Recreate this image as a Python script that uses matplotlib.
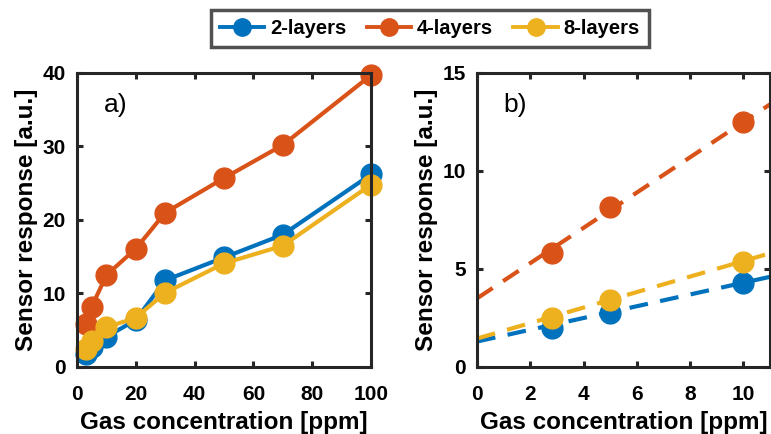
import numpy as np
import matplotlib
matplotlib.use('Agg')
import matplotlib.pyplot as plt
from matplotlib.lines import Line2D

plt.rcParams['font.family'] = ['Liberation Sans', 'DejaVu Sans']

# panel a) data
conc_a = [3, 5, 10, 20, 30, 50, 70, 100]
resp_2 = [1.8, 2.7, 4.1, 6.4, 11.8, 14.9, 18.0, 26.2]
resp_4 = [5.9, 8.2, 12.5, 16.1, 21.0, 25.7, 30.2, 39.7]
resp_8 = [2.4, 3.5, 5.4, 6.7, 10.1, 14.1, 16.5, 24.8]

# panel b) data (low concentration) + linear fit end points
conc_b = [2.8, 5, 10]
low_2 = [1.97, 2.74, 4.27]
low_4 = [5.84, 8.18, 12.48]
low_8 = [2.52, 3.42, 5.37]
fit_x = [0, 11]
fit_2 = [1.3, 4.6]
fit_4 = [3.5, 13.4]
fit_8 = [1.45, 5.8]

labels = ['2-layers', '4-layers', '8-layers']
colors = ['#0072BD', '#D95319', '#EDB120']
spine_c = '#262626'

fig = plt.figure(figsize=(7.71, 4.34), dpi=100)
ax1 = fig.add_axes([0.0999, 0.1544, 0.3813, 0.6774])
ax2 = fig.add_axes([0.6187, 0.1544, 0.3800, 0.6774])

for y, c in zip([resp_2, resp_4, resp_8], colors):
    ax1.plot(conc_a, y, '-o', color=c, lw=3, ms=15, clip_on=False)

for y, fy, c in zip([low_2, low_4, low_8], [fit_2, fit_4, fit_8], colors):
    ax2.plot(conc_b, y, 'o', color=c, ms=15, clip_on=False)
    ax2.plot(fit_x, fy, '--', color=c, lw=3, dashes=(4.5, 3))

ax1.set_xlim(0, 100)
ax1.set_ylim(0, 40)
ax1.set_xticks([0, 20, 40, 60, 80, 100])
ax1.set_yticks([0, 10, 20, 30, 40])
ax2.set_xlim(0, 11)
ax2.set_ylim(0, 15)
ax2.set_xticks([0, 2, 4, 6, 8, 10])
ax2.set_yticks([0, 5, 10, 15])

for ax, tag in [(ax1, 'a)'), (ax2, 'b)')]:
    for s in ax.spines.values():
        s.set_linewidth(2.2)
        s.set_color(spine_c)
    ax.tick_params(direction='in', top=True, right=True, length=4, width=2.2,
                   color=spine_c, labelsize=15)
    ax.tick_params(axis='x', pad=13)
    ax.tick_params(axis='y', pad=8)
    for lab in ax.get_xticklabels() + ax.get_yticklabels():
        lab.set_fontweight('bold')
    ax.set_xlabel('Gas concentration [ppm]', fontsize=17.5, fontweight='bold', labelpad=5)
    ax.set_ylabel('Sensor response [a.u.]', fontsize=17.5, fontweight='bold', labelpad=3)
    ax.text(0.09, 0.89, tag, transform=ax.transAxes, fontsize=19, va='center', ha='left')

handles = [Line2D([], [], color=c, lw=2.8, marker='o', ms=12.5) for c in colors]
leg = fig.legend(handles, labels, loc='center', bbox_to_anchor=(0.5577, 0.935), ncol=3,
                 frameon=True, fancybox=False, prop={'weight': 'bold', 'size': 14.5},
                 handlelength=2.2, columnspacing=1.0, handletextpad=0.3, borderpad=0.45)
leg.get_frame().set_edgecolor('#262626')
leg.get_frame().set_linewidth(2.5)

fig.savefig('out.png', dpi=100)
